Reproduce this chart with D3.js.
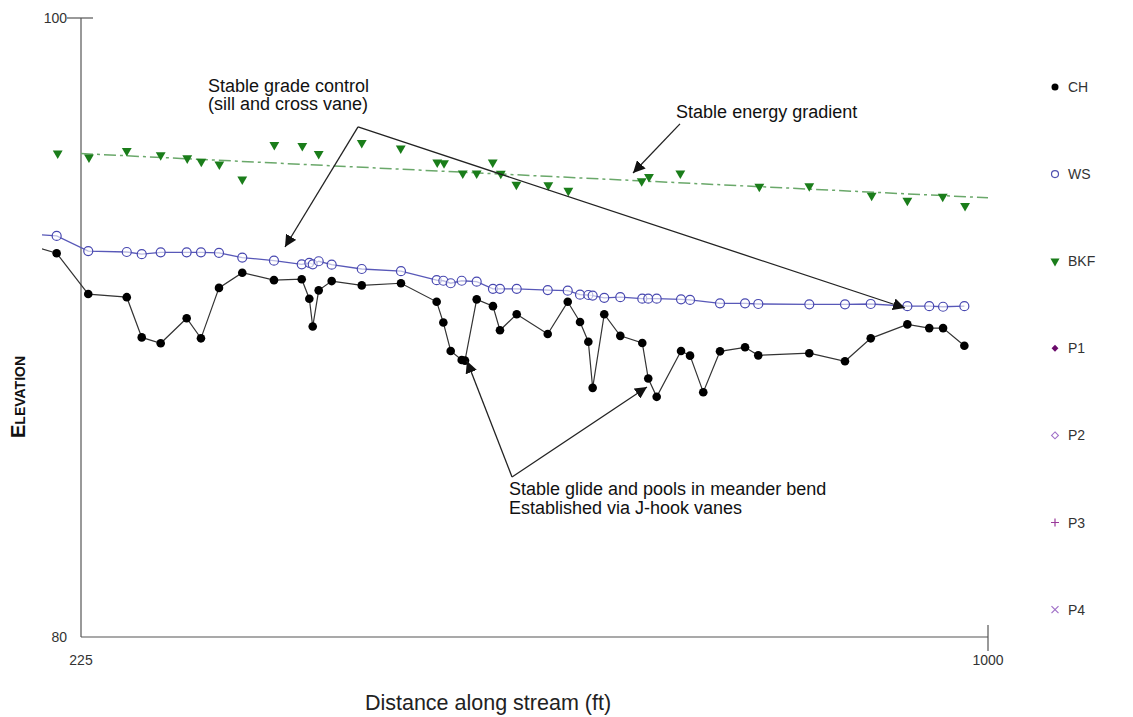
<!DOCTYPE html>
<html>
<head>
<meta charset="utf-8">
<script src="https://cdn.jsdelivr.net/npm/d3@7"></script>
<style>
  body { margin: 0; background: #fff; }
  svg { display: block; font-family: "Liberation Sans", Arial, sans-serif; }
</style>
</head>
<body>
<script>
// channel bed (CH)
var ch_station = [180, 204.2, 231.2, 264.1, 276.9, 293.1, 315.3, 327.5, 342.9, 362.8, 389.9, 413.6, 420.1, 423.0, 428.1, 439.2, 464.9, 498.4,
  528.9, 534.6, 540.9, 550.3, 553.1, 563.1, 577.0, 583.0, 597.3, 623.8, 640.9, 651.4, 658.5, 662.2, 672.1, 685.8, 704.6, 709.7, 716.9,
  737.7, 745.4, 756.7, 771.0, 792.4, 803.7, 847.3, 877.8, 899.8, 931.1, 949.8, 961.6, 979.8];
var ch_elev = [92.67, 92.40, 91.08, 90.98, 89.68, 89.49, 90.30, 89.65, 91.28, 91.77, 91.53, 91.56, 90.93, 90.03, 91.20, 91.50, 91.36, 91.43,
  90.83, 90.16, 89.24, 88.95, 88.93, 90.91, 90.69, 89.91, 90.43, 89.79, 90.83, 90.18, 89.54, 88.05, 90.43, 89.73, 89.50, 88.35, 87.76,
  89.24, 89.09, 87.91, 89.23, 89.36, 89.10, 89.17, 88.91, 89.65, 90.10, 89.98, 89.98, 89.41];

// water surface (WS)
var ws_station = [180, 204.2, 231.2, 264.1, 276.9, 293.1, 315.3, 327.5, 342.9, 362.8, 389.9, 413.6, 420.1, 423.0, 428.1, 439.2, 464.9, 498.4,
  528.9, 534.6, 540.9, 550.3, 563.1, 577.0, 583.0, 597.3, 623.8, 640.9, 651.4, 658.5, 662.2, 672.1, 685.8, 704.6, 709.7, 716.9,
  737.7, 745.4, 771.0, 792.4, 803.7, 847.3, 877.8, 899.8, 931.1, 949.8, 961.6, 979.8];
var ws_elev = [93.02, 92.96, 92.47, 92.44, 92.37, 92.43, 92.43, 92.43, 92.41, 92.26, 92.16, 92.04, 92.09, 92.04, 92.14, 92.03, 91.89, 91.82,
  91.53, 91.51, 91.43, 91.51, 91.48, 91.25, 91.25, 91.25, 91.21, 91.19, 91.06, 91.05, 91.03, 90.96, 90.98, 90.93, 90.93, 90.93,
  90.91, 90.89, 90.78, 90.78, 90.76, 90.75, 90.75, 90.76, 90.69, 90.69, 90.67, 90.69];

// bankfull (BKF)
var bkf_station = [205.1, 231.8, 264.1, 293.1, 315.8, 327.8, 343.2, 362.8, 390.2, 414.1, 428.1, 464.9, 498.2, 529.4, 535.2, 551.2, 563.1,
  576.8, 583.7, 597.0, 624.3, 641.4, 704.1, 710.3, 737.1, 804.6, 847.3, 900.6, 931.1, 961.3, 980.4];
var bkf_elev = [95.63, 95.50, 95.71, 95.57, 95.47, 95.36, 95.27, 94.79, 95.90, 95.87, 95.61, 95.97, 95.79, 95.34, 95.31, 94.98, 94.98,
  95.34, 94.97, 94.62, 94.60, 94.42, 94.73, 94.87, 94.98, 94.55, 94.57, 94.26, 94.10, 94.23, 93.93];

// bankfull slope line
var bkf_fit_station = [225, 1000];
var bkf_fit_elev = [95.62, 94.19];

var legend_names = ["CH", "WS", "BKF", "P1", "P2", "P3", "P4"];

var width = 1133, height = 717;
var svg = d3.select("body").append("svg").attr("width", width).attr("height", height);

var x = d3.scaleLinear().domain([225, 1000]).range([81, 988]);
var y = d3.scaleLinear().domain([80, 100]).range([637, 18]);

svg.append("defs").append("clipPath").attr("id", "plotclip")
  .append("rect").attr("x", 42).attr("y", 0).attr("width", 990).attr("height", 640);

svg.select("defs").append("marker")
  .attr("id", "arrow")
  .attr("viewBox", "0 0 10 10")
  .attr("refX", 10).attr("refY", 5)
  .attr("markerWidth", 12).attr("markerHeight", 12)
  .attr("markerUnits", "userSpaceOnUse")
  .attr("orient", "auto")
  .append("path").attr("d", "M0,0 L10,5 L0,10 z").style("fill", "#111");

// axes
svg.append("line").attr("x1", x(225)).attr("x2", x(225)).attr("y1", y(100)).attr("y2", y(80))
  .attr("stroke", "#777").attr("stroke-width", 1.5);
svg.append("line").attr("x1", x(225) - 14).attr("x2", x(225) + 12).attr("y1", y(100)).attr("y2", y(100))
  .attr("stroke", "#555").attr("stroke-width", 1.2);
svg.append("line").attr("x1", x(225)).attr("x2", x(1000)).attr("y1", y(80)).attr("y2", y(80))
  .attr("stroke", "#555").attr("stroke-width", 1.2);
svg.append("line").attr("x1", x(1000)).attr("x2", x(1000)).attr("y1", y(80) - 12).attr("y2", y(80) + 14)
  .attr("stroke", "#555").attr("stroke-width", 1.2);

var tickStyle = function(t) { t.attr("font-size", "14px").attr("fill", "#333"); };
svg.append("text").attr("x", x(225) - 14).attr("y", y(100) + 5).attr("text-anchor", "end").text("100").call(tickStyle);
svg.append("text").attr("x", x(225) - 14).attr("y", y(80) + 5).attr("text-anchor", "end").text("80").call(tickStyle);
svg.append("text").attr("x", x(225)).attr("y", y(80) + 28).attr("text-anchor", "middle").text("225").call(tickStyle);
svg.append("text").attr("x", x(1000)).attr("y", y(80) + 28).attr("text-anchor", "middle").text("1000").call(tickStyle);

svg.append("text").attr("x", 488).attr("y", 710).attr("text-anchor", "middle")
  .attr("font-size", "21.5px").attr("fill", "#222").text("Distance along stream (ft)");
svg.append("text").attr("transform", "translate(25," + 397 + ") rotate(-90)")
  .attr("text-anchor", "middle").attr("font-size", "20px").attr("font-weight", "bold")
  .style("font-variant", "small-caps").attr("fill", "#111").text("Elevation");

var plot = svg.append("g").attr("clip-path", "url(#plotclip)");

// bankfull trend
plot.append("path")
  .datum(d3.zip(bkf_fit_station, bkf_fit_elev))
  .attr("d", d3.line().x(function(d) { return x(d[0]); }).y(function(d) { return y(d[1]); }))
  .attr("fill", "none").attr("stroke", "#6aa86a").attr("stroke-width", 1.5)
  .attr("stroke-dasharray", "12,4,3,4");

var line = d3.line().x(function(d) { return x(d[0]); }).y(function(d) { return y(d[1]); });

var ws = d3.zip(ws_station, ws_elev);
plot.append("path").datum(ws).attr("d", line)
  .attr("fill", "none").attr("stroke", "#5858b8").attr("stroke-width", 1.3);
plot.selectAll(".ws").data(ws).enter().append("circle").attr("class", "ws")
  .attr("cx", function(d) { return x(d[0]); }).attr("cy", function(d) { return y(d[1]); })
  .attr("r", 4.5).attr("fill", "#fff").attr("fill-opacity", 0.6).attr("stroke", "#4848b0").attr("stroke-width", 1.2);

var ch = d3.zip(ch_station, ch_elev);
plot.append("path").datum(ch).attr("d", line)
  .attr("fill", "none").attr("stroke", "#333").attr("stroke-width", 1.2);
plot.selectAll(".ch").data(ch).enter().append("circle").attr("class", "ch")
  .attr("cx", function(d) { return x(d[0]); }).attr("cy", function(d) { return y(d[1]); })
  .attr("r", 4.3).attr("fill", "#000");

var tri = d3.symbol().type(d3.symbolTriangle).size(42);
plot.selectAll(".bkf").data(d3.zip(bkf_station, bkf_elev)).enter().append("path").attr("class", "bkf")
  .attr("d", tri)
  .attr("transform", function(d) { return "translate(" + x(d[0]) + "," + y(d[1]) + ") rotate(180)"; })
  .attr("fill", "#1a7d1a");

// annotations
function arrow(x1, y1, x2, y2) {
  svg.append("line").attr("x1", x(x1)).attr("y1", y(y1)).attr("x2", x(x2)).attr("y2", y(y2))
    .attr("stroke", "#222").attr("stroke-width", 1.3).attr("marker-end", "url(#arrow)");
}
arrow(461.7, 96.48, 399.3, 92.60);
arrow(461.7, 96.48, 929.1, 90.63);
arrow(736.8, 96.58, 696.7, 94.99);
arrow(593.3, 85.17, 554.8, 88.92);
arrow(593.3, 85.17, 708.6, 88.08);

function note(xv, yv, lines) {
  var t = svg.append("text").attr("x", x(xv)).attr("y", y(yv)).attr("font-size", "18px").attr("fill", "#111");
  lines.forEach(function(s, i) {
    t.append("tspan").attr("x", x(xv)).attr("dy", i == 0 ? 0 : 18.5).text(s);
  });
}
note(333.5, 97.62, ["Stable grade control", "(sill and cross vane)"]);
note(733.5, 96.77, ["Stable energy gradient"]);
note(590.7, 84.58, ["Stable glide and pools in meander bend", "Established via J-hook vanes"]);

// legend
var leg = svg.selectAll(".leg").data(legend_names).enter().append("g").attr("class", "leg")
  .attr("transform", function(d, i) { return "translate(1055," + (87 + i * 87.1) + ")"; });
leg.append("text").attr("x", 13).attr("y", 5).attr("font-size", "14px").attr("fill", "#333").text(function(d) { return d; });
leg.each(function(d) {
  var g = d3.select(this);
  if (d == "CH") g.append("circle").attr("r", 3.5).attr("fill", "#000");
  if (d == "WS") g.append("circle").attr("r", 3.5).attr("fill", "none").attr("stroke", "#5050b0").attr("stroke-width", 1.2);
  if (d == "BKF") g.append("path").attr("d", d3.symbol().type(d3.symbolTriangle).size(36)).attr("transform", "rotate(180)").attr("fill", "#1a7d1a");
  if (d == "P1") g.append("path").attr("d", d3.symbol().type(d3.symbolDiamond2).size(30)).attr("fill", "#6a0a6a");
  if (d == "P2") g.append("path").attr("d", d3.symbol().type(d3.symbolDiamond2).size(30)).attr("fill", "none").attr("stroke", "#a070c8").attr("stroke-width", 1.1);
  if (d == "P3") g.append("path").attr("d", "M-4,0H4M0,-4V4").attr("stroke", "#9a3a9a").attr("stroke-width", 1.2);
  if (d == "P4") g.append("path").attr("d", "M-3.5,-3.5L3.5,3.5M-3.5,3.5L3.5,-3.5").attr("stroke", "#a070c8").attr("stroke-width", 1.2);
});
</script>
</body>
</html>
